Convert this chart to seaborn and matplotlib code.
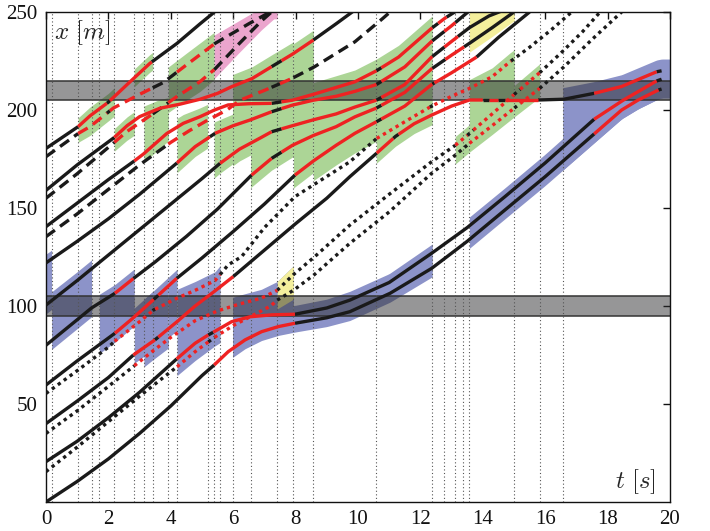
import numpy as np
import pandas as pd
import matplotlib
matplotlib.use("Agg")
import matplotlib.pyplot as plt
import seaborn as sns

sns.set_theme(style="white")
plt.rcParams['font.family'] = ['Liberation Serif', 'DejaVu Serif']
plt.rcParams['mathtext.fontset'] = 'cm'

# ---------------- data: trajectories (t [s], x [m]) ----------------
# lower platoon (solid)
t_A = [0, 1, 2, 3, 4, 5, 5.39, 5.84, 6.38, 6.91, 7.45, 7.98, 9, 9.74, 11.03, 12.36, 13.5, 14.71, 16, 17.57, 18.45, 18.98, 19.63, 19.73]
x_A = [0, 10.5, 22, 35, 49, 64.5, 69.9, 76.7, 82.7, 86.9, 89.5, 91.2, 94, 97.1, 106.5, 119.2, 133, 149, 166, 187.8, 200, 205.1, 210.2, 210.7]
t_B = [0, 1, 2, 3, 4.19, 4.78, 5.2, 5.36, 5.95, 6.54, 7.25, 7.98, 9, 9.74, 11, 12.36, 13.5, 14.71, 16, 17.57, 18.5, 19.57, 19.73]
x_B = [20.6, 31, 43, 56, 73, 81, 85.2, 86.6, 92, 94.5, 95.5, 95.8, 99, 103, 112, 126.9, 140, 155.8, 173, 195.3, 205, 214.8, 215.7]
t_C = [0, 1, 2, 2.8, 3.49, 4.2, 4.78, 5.4, 6.0, 7, 8, 9, 9.74, 10.6, 11.2, 11.8, 12.36, 13, 13.57, 14.71, 15.77, 16.6, 17.57, 18.45, 19.57, 19.73]
x_C = [40, 51.5, 63.5, 75, 82.7, 92, 100, 107.5, 115, 128.5, 142, 155, 166, 178, 186.5, 193, 197.4, 202, 205.1, 205.1, 205.1, 205.5, 208.5, 212, 219.5, 220]
t_D = [0, 1, 2.21, 2.8, 3.49, 4.19, 5, 6, 7, 7.98, 8.57, 9.3, 9.9, 10.59, 11.5, 12.36, 13, 13.8, 14.5, 15.5]
x_D = [59.7, 72, 86.1, 94, 103.9, 114.1, 124.5, 138, 152, 166.8, 174, 182, 188.1, 194, 202, 213, 219, 227, 237, 250]
t_E = [0, 1, 1.46, 2.21, 2.8, 3.5, 4.5, 5.5, 6.59, 7.23, 7.9, 8.57, 9.3, 9.9, 10.59, 11.5, 12.36, 13, 13.57, 14.3, 15.0]
x_E = [80, 93, 99, 106.5, 114, 122.5, 135.5, 149.5, 166.8, 175.3, 182, 187, 191.5, 196.5, 201, 209, 221, 228, 234, 242, 250]
t_F = [0, 1, 2, 3, 4, 5, 5.58, 6.2, 6.9, 7.23, 7.9, 8.57, 9.3, 9.9, 10.59, 11.5, 12.36, 13, 13.57, 14.2, 15.0]
x_F = [100.5, 113, 126, 139, 152, 165, 172.8, 180, 186, 188.9, 192, 195, 198, 201.5, 205, 213, 227, 235, 242, 248, 253]
t_G = [0, 1, 2, 3, 4.2, 4.78, 5.42, 6.0, 6.54, 7.23, 7.9, 8.57, 9.3, 9.9, 10.59, 11.5, 12.36, 13, 13.6]
x_G = [122, 133, 144.5, 157, 173, 181.3, 188.1, 192, 194.9, 199.1, 202.5, 205, 207, 209.5, 213, 222, 235, 243, 251]
# upper platoon (solid)
t_S3 = [0, 1, 2, 2.83, 3.12, 3.87, 4.4, 4.94, 5.4, 5.84, 6.5, 7.23, 7.9, 8.57, 9.3, 9.9, 10.59, 11.3, 12.36, 12.8, 13.3]
x_S3 = [140.5, 152.5, 164.5, 174, 177.5, 188, 193.2, 196.6, 200, 202.6, 203.2, 203.4, 205, 208, 211.5, 214.4, 220, 227, 241.7, 247, 252]
t_S2 = [0, 1, 2.19, 2.6, 3.0, 3.65, 4.3, 4.94, 5.5, 5.95, 6.6, 7.23, 7.9, 8.57, 9.3, 9.9, 10.1]
x_S2 = [159, 172, 186, 192, 196.6, 200.9, 203, 205.5, 208.5, 211.9, 216, 222.1, 228.5, 235.7, 244, 251, 253]
t_S1 = [0, 1.03, 1.41, 2.0, 2.6, 3.33, 4.2, 4.94, 5.4]
x_S1 = [180.4, 191.5, 197, 204, 213, 223.8, 234, 244, 250]
# dashed
t_H1 = [0, 1.03, 1.41, 2.16, 3.0, 3.76, 4.5, 5.42, 6.5, 7.3]
x_H1 = [176.2, 188, 191.5, 201, 208, 214, 223, 234, 244, 251]
t_H2 = [0, 1, 2.19, 2.59, 3.42, 4.19, 4.94, 5.42, 6.2, 6.91, 7.3]
x_H2 = [155, 167.5, 183.5, 189, 198, 206.8, 214.5, 221, 234, 245.5, 251]
t_H3 = [0, 1, 2, 3, 4, 4.6, 5.2, 5.8, 6.22, 7.0, 7.87, 8.6, 9.9, 10.8, 11.1]
x_H3 = [135.4, 147, 159.5, 172, 183.5, 189.5, 195, 200, 205, 210, 216, 222, 234.8, 246.8, 251]
# dotted
t_DA = [0, 1, 2, 3, 4.2, 4.78, 5.4, 6.0, 6.6, 7.2, 7.41, 7.93, 8.6, 9.74, 11, 12.36, 13.12, 13.57, 14.3, 15.01, 15.82, 16.6, 17.5, 18.45]
x_DA = [15.5, 28, 41, 54, 69, 76.7, 84, 90, 95, 100, 103, 108, 116, 132, 148, 167.7, 177, 183, 192, 201, 211, 222, 236, 250]
t_DB = [0, 1, 2, 2.83, 3.42, 4, 4.78, 5.5, 6.2, 6.9, 7.41, 7.93, 8.6, 9.74, 11, 12.36, 13.12, 13.57, 14.3, 15.01, 15.82, 16.5, 17.2, 17.76]
x_DB = [35, 46.5, 59, 69.5, 77, 84, 92.5, 97.5, 101, 104, 108, 116, 125, 141.3, 157, 173.6, 182, 188, 198, 208, 219, 229, 240, 250]
t_DC = [0, 1, 2, 2.2, 3, 3.45, 4.2, 4.78, 5.42, 5.84, 6.27, 7, 7.98, 9.74, 10.6, 11.5, 12.36, 13, 13.57, 14.3, 14.87, 15.5, 16.2, 16.85]
x_DC = [55.4, 67, 79, 82, 92, 98, 104, 108, 113, 121, 125.2, 140, 155.8, 173.6, 185.5, 194, 202, 207, 211, 217, 224.6, 232, 241, 250]

# red (controlled) time intervals per vehicle
red_A = [(5.39, 7.98), (17.57, 19.63)]
red_B = [(4.19, 5.2), (5.36, 7.98), (17.57, 19.57)]
red_C = [(2.8, 3.49), (3.6, 6.0), (10.6, 11.13), (11.3, 14.0), (14.2, 14.5), (14.7, 15.77), (17.57, 19.57)]
red_D = [(2.21, 3.45), (3.6, 4.19), (7.98, 10.59), (10.75, 12.38), (12.45, 13.8)]
red_E = [(2.21, 2.8), (6.59, 7.23), (7.55, 10.59), (10.75, 12.38), (12.8, 13.4)]
red_F = [(5.58, 7.23), (7.55, 10.59), (10.75, 12.38), (12.77, 13.2)]
red_G = [(4.2, 5.25), (5.42, 7.23), (7.55, 10.59), (10.75, 12.38), (12.77, 13.12)]
red_S3 = [(2.83, 7.23), (7.55, 10.59), (10.75, 12.38), (12.57, 12.84)]
red_S2 = [(2.19, 7.23), (7.55, 8.57)]
red_S1 = [(1.03, 1.95), (2.05, 3.39)]
red_H1 = [(1.03, 1.95), (2.05, 3.42), (4.2, 5.39)]
red_H2 = [(2.19, 3.42), (3.92, 5.39)]
red_H3 = [(3.92, 7.23), (7.5, 7.93)]
red_DA = [(4.2, 5.2), (5.4, 7.41), (13.57, 15.01), (15.2, 15.82)]
red_DB = [(2.83, 7.41), (13.12, 13.5), (13.7, 15.0), (15.2, 15.82)]
red_DC = [(2.2, 3.42), (3.5, 5.58), (10.6, 12.3), (12.45, 14.9)]

# decision instants (vertical dotted lines)
t_events = [0.18, 1.03, 1.46, 1.71, 2.19, 2.83, 3.14, 3.42, 3.92, 4.2, 5.18, 5.39, 5.58, 5.98,
            6.56, 7.41, 7.93, 8.57, 10.59, 12.38, 12.77, 13.12, 13.35, 13.57, 15.01, 15.82, 16.56]

# intersections (conflict zones)
zones = [(95, 105), (205, 215)]

traj = {
    'A': (t_A, x_A, 'solid', red_A), 'B': (t_B, x_B, 'solid', red_B),
    'C': (t_C, x_C, 'solid', red_C), 'D': (t_D, x_D, 'solid', red_D),
    'E': (t_E, x_E, 'solid', red_E), 'F': (t_F, x_F, 'solid', red_F),
    'G': (t_G, x_G, 'solid', red_G), 'S3': (t_S3, x_S3, 'solid', red_S3),
    'S2': (t_S2, x_S2, 'solid', red_S2), 'S1': (t_S1, x_S1, 'solid', red_S1),
    'H1': (t_H1, x_H1, 'dashed', red_H1), 'H2': (t_H2, x_H2, 'dashed', red_H2),
    'H3': (t_H3, x_H3, 'dashed', red_H3),
    'DA': (t_DA, x_DA, 'dotted', red_DA), 'DB': (t_DB, x_DB, 'dotted', red_DB),
    'DC': (t_DC, x_DC, 'dotted', red_DC),
}

# shaded regions: (t0, t1, lower vehicle, upper vehicle, lower pad, upper pad, colour)
GREEN, BLUE, PINK, YELLOW = '#acd596', '#8c93c9', '#eba5cd', '#f4ef9c'
regions = [
    (1.03, 2.19, 'H1', 'S1', 4.5, 4.5, GREEN), (2.19, 2.83, 'H2', 'S2', 4.5, 4.5, GREEN),
    (2.83, 3.42, 'S1', 'S1', 4.5, 4.5, GREEN), (3.14, 3.92, 'S3', 'S2', 4.5, 4.5, GREEN),
    (3.92, 5.39, 'H2', 'H1', 5, 6, GREEN), (4.2, 5.18, 'G', 'S3', 5, 4.5, GREEN),
    (5.39, 5.98, 'F', 'G', 5, 6, GREEN), (5.98, 6.56, 'F', 'S2', 6, 6, GREEN),
    (6.56, 7.93, 'E', 'S2', 6, 6, GREEN), (7.93, 8.57, 'D', 'S2', 6, 5, GREEN),
    (8.57, 10.59, 'D', 'S3', 10, 6, GREEN), (10.59, 12.38, 'C', 'S3', 5, 6, GREEN),
    (13.12, 13.57, 'DA', 'DB', 4.5, 4.5, GREEN), (13.57, 15.01, 'DA', 'DC', 4.5, 4.5, GREEN),
    (15.01, 15.82, 'DA', 'DB', 4.5, 4.5, GREEN),
    (0.0, 0.18, 'F', 'G', 4.5, 4.5, BLUE), (0.18, 1.46, 'E', 'F', 4.5, 4.5, BLUE),
    (1.71, 2.83, 'D', 'E', 4.5, 4.5, BLUE), (2.83, 3.42, 'C', 'D', 4.5, 4.5, BLUE),
    (3.14, 3.92, 'DB', 'D', 4.5, 4.5, BLUE), (3.92, 4.2, 'C', 'D', 4.5, 4.5, BLUE),
    (4.2, 5.58, 'DA', 'DC', 4.5, 4.5, BLUE), (5.98, 7.93, 'A', 'DB', 4.5, 4.5, BLUE),
    (7.93, 12.38, 'A', 'B', 4.5, 4.5, BLUE), (13.57, 20.0, 'A', 'B', 4.5, 4.5, BLUE),
    (16.56, 20.0, 'A', 'C', 4.5, 6, BLUE),
    (5.39, 7.41, 'H2', 'H1', 4.5, 4.5, PINK), (7.41, 7.93, 'DA', 'DB', 4.5, 4.5, YELLOW),
    (13.57, 15.01, 'E', 'G', 4.5, 4.5, YELLOW),
]

# ---------------- drawing ----------------
fig = plt.figure(figsize=(7.10, 5.31), dpi=100)
ax = fig.add_axes([46 / 710, 1 - 502 / 531, 624 / 710, 490 / 531])

for t0, t1, lo, hi, plo, phi, col in regions:
    tt = np.linspace(t0, t1, 60)
    ylo = np.interp(tt, traj[lo][0], traj[lo][1]) - plo
    yhi = np.interp(tt, traj[hi][0], traj[hi][1]) + phi
    ax.fill_between(tt, ylo, yhi, color=col, lw=0, zorder=1)

for z0, z1 in zones:
    ax.axhspan(z0, z1, facecolor='#2e2e30', alpha=0.5, lw=0, zorder=2)
    ax.axhline(z0, color='#333333', lw=1.1, zorder=2)
    ax.axhline(z1, color='#333333', lw=1.1, zorder=2)

for te in t_events:
    ax.axvline(te, color='#555555', lw=0.8, linestyle=(0, (1, 2.2)), zorder=2.5)

styles = {'solid': '-', 'dashed': (0, (3.3, 1.9)), 'dotted': (0, (1.0, 1.2))}

for name, (tt, xx, sty, reds) in traj.items():
    tt = np.asarray(tt, float)
    xx = np.asarray(xx, float)
    cuts = sorted({tt[0], tt[-1]} | {b for iv in reds for b in iv if tt[0] < b < tt[-1]})
    for a, b in zip(cuts[:-1], cuts[1:]):
        mid = 0.5 * (a + b)
        is_red = any(r0 <= mid <= r1 for r0, r1 in reds)
        inner = (tt > a) & (tt < b)
        ts = np.concatenate([[a], tt[inner], [b]])
        xs = np.interp(ts, tt, xx)
        seg = pd.DataFrame({'t': ts, 'x': xs})
        sns.lineplot(data=seg, x='t', y='x', ax=ax, estimator=None, sort=False, legend=False,
                     color='#ee2222' if is_red else '#1a1a1a', lw=2.4, linestyle=styles[sty],
                     dash_capstyle='butt', solid_capstyle='butt', zorder=4 if is_red else 3)

ax.set_xlim(0, 20)
ax.set_ylim(0, 250)
ax.set_xticks(range(0, 21, 2))
ax.set_yticks([50, 100, 150, 200, 250])
ax.set_xlabel('')
ax.set_ylabel('')
ax.tick_params(direction='in', length=5, width=1, top=True, right=True, labelsize=15,
               labeltop=False, labelright=False, pad=6, colors='#111111')
for s in ax.spines.values():
    s.set_color('#111111')
    s.set_linewidth(1.0)
    s.set_visible(True)
ax.text(0.25, 247, r'$x\ [m]$', fontsize=18, va='top', ha='left', zorder=6)
ax.text(19.55, 3, r'$t\ [s]$', fontsize=18, va='bottom', ha='right', zorder=6)

fig.savefig('out.png', dpi=100)
